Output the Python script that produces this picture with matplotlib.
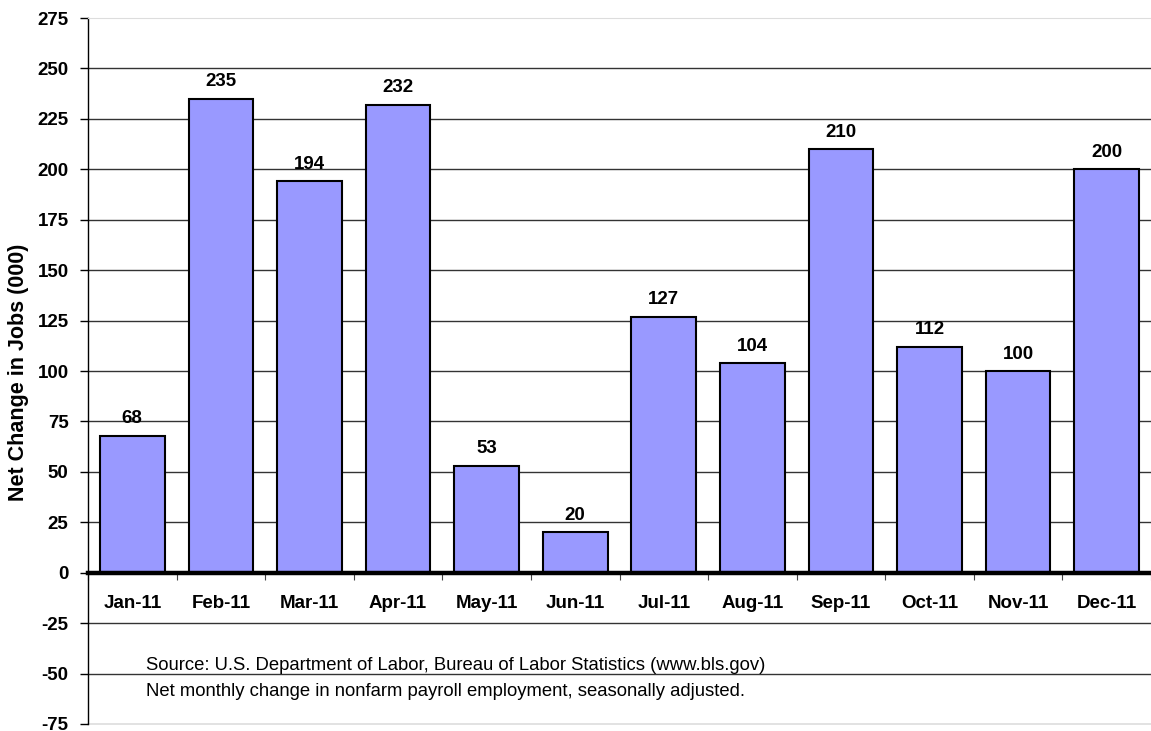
import matplotlib
matplotlib.use("Agg")
import matplotlib.pyplot as plt
import numpy as np

months = ["Jan-11", "Feb-11", "Mar-11", "Apr-11", "May-11", "Jun-11",
          "Jul-11", "Aug-11", "Sep-11", "Oct-11", "Nov-11", "Dec-11"]
jobs = [68, 235, 194, 232, 53, 20, 127, 104, 210, 112, 100, 200]
y_ticks = list(range(-75, 276, 25))
source_lines = [
    "Source: U.S. Department of Labor, Bureau of Labor Statistics (www.bls.gov)",
    "Net monthly change in nonfarm payroll employment, seasonally adjusted.",
]

plt.rcParams["font.family"] = ["Liberation Sans", "DejaVu Sans"]
FS = 13.5

W, H = 1151, 731
fig = plt.figure(figsize=(W / 100, H / 100), dpi=100)
ax = fig.add_axes([88 / W, 1 - 724 / H, 1 - 88 / W, (724 - 18) / H])

x = np.arange(len(months)) + 0.5
ax.set_xlim(0, len(months))
ax.set_ylim(y_ticks[0], y_ticks[-1])

# horizontal gridlines (inner ones only; outer ones are the frame)
for v in y_ticks[1:-1]:
    ax.axhline(v, color="#333333", lw=1.0, zorder=1)

bars = ax.bar(x, jobs, width=0.73, color="#9999FF", edgecolor="black",
              linewidth=1.5, zorder=3)

for xi, v in zip(x, jobs):
    ax.annotate(f"{v}", (xi, v), xytext=(0, 6), textcoords="offset points",
                ha="center", va="bottom", fontsize=FS, fontweight="bold",
                zorder=4)

# frame
ax.spines["right"].set_visible(False)
ax.spines["top"].set_color("#dddddd")
ax.spines["left"].set_color("black")
ax.spines["left"].set_linewidth(1.0)
ax.axhline(y_ticks[0], color="#dddddd", lw=1.2, clip_on=False, zorder=1)

# category axis sits on the zero line
ax.spines["bottom"].set_position(("data", 0))
ax.spines["bottom"].set_linewidth(3.2)
ax.spines["bottom"].set_zorder(5)

ax.set_xticks(x)
ax.set_xticklabels(months, fontsize=FS, fontweight="bold")
ax.set_xticks(np.arange(len(months) + 1), minor=True)
ax.tick_params(axis="x", which="major", length=0, pad=16)
ax.tick_params(axis="x", which="minor", length=5, width=0.8, direction="out",
               color="#444444")

ax.set_yticks(y_ticks)
ax.set_yticklabels([str(v) for v in y_ticks], fontsize=FS, fontweight="bold")
ax.tick_params(axis="y", length=6, width=1.0, direction="out", pad=8)

fig.text(19 / W, 1 - 372 / H, "Net Change in Jobs (000)", rotation=90,
         ha="center", va="center", fontsize=15.5, fontweight="bold")

for i, line in enumerate(source_lines):
    fig.text(146 / W, 1 - (666 + 25 * i) / H, line, ha="left", va="center",
             fontsize=13.3)

fig.savefig("out.png", dpi=100)
